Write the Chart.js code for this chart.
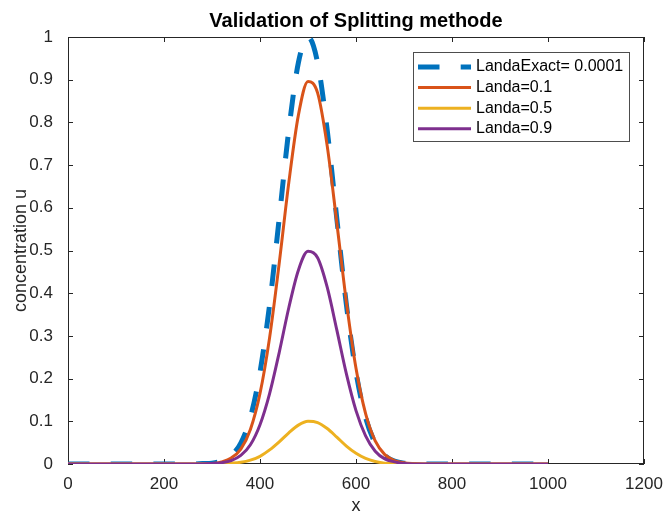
<!DOCTYPE html>
<html>
<head>
<meta charset="utf-8">
<title>Validation of Splitting methode</title>
<script src="https://cdn.jsdelivr.net/npm/chart.js@4.4.1/dist/chart.umd.min.js"></script>
<style>
  html, body { margin: 0; padding: 0; background: #ffffff; }
  #wrap { position: relative; width: 665px; height: 511px; }
</style>
</head>
<body>
<div id="wrap"><canvas id="splitChart" width="665" height="511"></canvas></div>
<script>
// ------------------------------
// DATA
// ------------------------------

const xValues = [0, 100, 200, 260, 280, 300, 320, 340, 360, 380, 400, 420, 440, 460, 480, 500,
  520, 540, 560, 580, 600, 620, 640, 660, 680, 700, 720, 740, 800, 900, 1000];

const exactValues = [0, 0, 0, 0.000, 0.001, 0.002, 0.007, 0.020, 0.049, 0.109, 0.215, 0.373, 0.575, 0.782, 0.940, 1.000,
  0.940, 0.782, 0.575, 0.373, 0.215, 0.109, 0.049, 0.020, 0.007, 0.002, 0.001, 0.000, 0, 0, 0];

const landa01Values = [0, 0, 0, 0.000, 0.000, 0.001, 0.005, 0.014, 0.035, 0.081, 0.165, 0.296, 0.470, 0.659, 0.817, 0.896,
  0.869, 0.745, 0.565, 0.379, 0.224, 0.118, 0.054, 0.022, 0.008, 0.003, 0.001, 0.000, 0, 0, 0];

const landa05Values = [0, 0, 0, 0.000, 0.000, 0.000, 0.001, 0.002, 0.004, 0.009, 0.018, 0.033, 0.052, 0.073, 0.091, 0.100,
  0.097, 0.083, 0.063, 0.042, 0.025, 0.013, 0.006, 0.002, 0.001, 0.000, 0.000, 0.000, 0, 0, 0];

const landa09Values = [0, 0, 0, 0.000, 0.000, 0.001, 0.003, 0.008, 0.020, 0.045, 0.092, 0.165, 0.261, 0.366, 0.454, 0.498,
  0.483, 0.414, 0.314, 0.211, 0.125, 0.066, 0.030, 0.012, 0.005, 0.001, 0.000, 0.000, 0, 0, 0];

const seriesLabels = ["LandaExact= 0.0001", "Landa=0.1", "Landa=0.5", "Landa=0.9"];

const xTicks = [0, 200, 400, 600, 800, 1000, 1200];
const yTicks = [0, 0.1, 0.2, 0.3, 0.4, 0.5, 0.6, 0.7, 0.8, 0.9, 1];

const titleText = "Validation of Splitting methode";
const xTitle = "x";
const yTitle = "concentration u";

// ------------------------------
// HELPERS
// ------------------------------

const FONT = "'Liberation Sans', Arial, Helvetica, sans-serif";
const AXIS_COLOR = "#262626";

function toPoints(values) {
  return values.map((v, i) => ({ x: xValues[i], y: v }));
}

function lineDataset(label, values, color, width, order, dash) {
  return {
    label,
    data: toPoints(values),
    borderColor: color,
    backgroundColor: color,
    borderWidth: width,
    borderDash: dash || [],
    borderCapStyle: "butt",
    pointRadius: 0,
    cubicInterpolationMode: "monotone",
    fill: false,
    order
  };
}

// box, inward ticks, title, axis titles and legend in matlab style
const matlabFrame = {
  id: "matlabFrame",
  beforeDatasetsDraw(chart) {
    const { ctx, chartArea: a, scales } = chart;
    ctx.save();
    ctx.strokeStyle = AXIS_COLOR;
    ctx.lineWidth = 1;
    ctx.strokeRect(a.left + 0.5, a.top + 0.5, a.right - a.left - 1, a.bottom - a.top - 1);

    const tick = 5;
    ctx.beginPath();
    xTicks.forEach((v) => {
      const px = Math.round(scales.x.getPixelForValue(v)) + 0.5;
      ctx.moveTo(px, a.bottom);
      ctx.lineTo(px, a.bottom - tick);
      ctx.moveTo(px, a.top);
      ctx.lineTo(px, a.top + tick);
    });
    yTicks.forEach((v) => {
      const py = Math.round(scales.y.getPixelForValue(v)) + 0.5;
      ctx.moveTo(a.left, py);
      ctx.lineTo(a.left + tick, py);
      ctx.moveTo(a.right, py);
      ctx.lineTo(a.right - tick, py);
    });
    ctx.stroke();

    ctx.fillStyle = "#000000";
    ctx.textAlign = "center";
    ctx.textBaseline = "middle";
    ctx.font = `bold 20px ${FONT}`;
    ctx.fillText(titleText, (a.left + a.right) / 2, 21);

    ctx.fillStyle = AXIS_COLOR;
    ctx.font = `18px ${FONT}`;
    ctx.fillText(xTitle, (a.left + a.right) / 2, 506);

    ctx.translate(21, (a.top + a.bottom) / 2);
    ctx.rotate(-Math.PI / 2);
    ctx.fillText(yTitle, 0, 0);
    ctx.restore();
  },
  afterDraw(chart) {
    const { ctx } = chart;
    const box = { x: 413, y: 52, w: 216, h: 89 };
    ctx.save();
    ctx.fillStyle = "#ffffff";
    ctx.fillRect(box.x, box.y, box.w, box.h);
    ctx.strokeStyle = "#4d4d4d";
    ctx.lineWidth = 1;
    ctx.strokeRect(box.x + 0.5, box.y + 0.5, box.w, box.h);

    ctx.font = `16px ${FONT}`;
    ctx.textAlign = "left";
    ctx.textBaseline = "middle";

    chart.data.datasets.forEach((ds, i) => {
      const y = box.y + 15 + i * 20.6;
      ctx.beginPath();
      ctx.strokeStyle = ds.borderColor;
      ctx.lineWidth = ds.borderWidth;
      ctx.lineCap = "butt";
      ctx.setLineDash(ds.borderDash);
      ctx.moveTo(418, y);
      ctx.lineTo(471, y);
      ctx.stroke();
      ctx.setLineDash([]);
      ctx.fillStyle = "#000000";
      ctx.fillText(ds.label, 476, y);
    });
    ctx.restore();
  }
};

// ------------------------------
// RENDER
// ------------------------------

function renderSplitChart() {
  const ctx = document.getElementById("splitChart").getContext("2d");

  new Chart(ctx, {
    type: "line",
    data: {
      datasets: [
        lineDataset(seriesLabels[0], exactValues, "#0072BD", 5, 4, [21.5, 21.2]),
        lineDataset(seriesLabels[1], landa01Values, "#D95319", 3, 3),
        lineDataset(seriesLabels[2], landa05Values, "#EDB120", 3, 2),
        lineDataset(seriesLabels[3], landa09Values, "#7E2F8E", 3, 1)
      ]
    },
    options: {
      responsive: false,
      animation: false,
      devicePixelRatio: 1,
      layout: { padding: { top: 37, right: 21, left: 0, bottom: 0 } },
      plugins: {
        legend: { display: false },
        title: { display: false },
        tooltip: { enabled: false }
      },
      scales: {
        x: {
          type: "linear",
          min: 0,
          max: 1200,
          grid: { display: false },
          border: { display: false },
          afterFit(scale) { scale.height = 47; },
          afterBuildTicks(scale) { scale.ticks = xTicks.map((v) => ({ value: v })); },
          ticks: {
            color: AXIS_COLOR,
            font: { family: FONT, size: 17 },
            padding: 2,
            maxRotation: 0,
            autoSkip: false,
            callback(value) { return String(value); }
          }
        },
        y: {
          type: "linear",
          min: 0,
          max: 1,
          grid: { display: false },
          border: { display: false },
          afterFit(scale) { scale.width = 68; },
          afterBuildTicks(scale) { scale.ticks = yTicks.map((v) => ({ value: v })); },
          ticks: {
            color: AXIS_COLOR,
            font: { family: FONT, size: 17 },
            padding: 7,
            autoSkip: false,
            callback(value) { return String(Number(value.toFixed(1))); }
          }
        }
      }
    },
    plugins: [matlabFrame]
  });
}

renderSplitChart();
</script>
</body>
</html>
